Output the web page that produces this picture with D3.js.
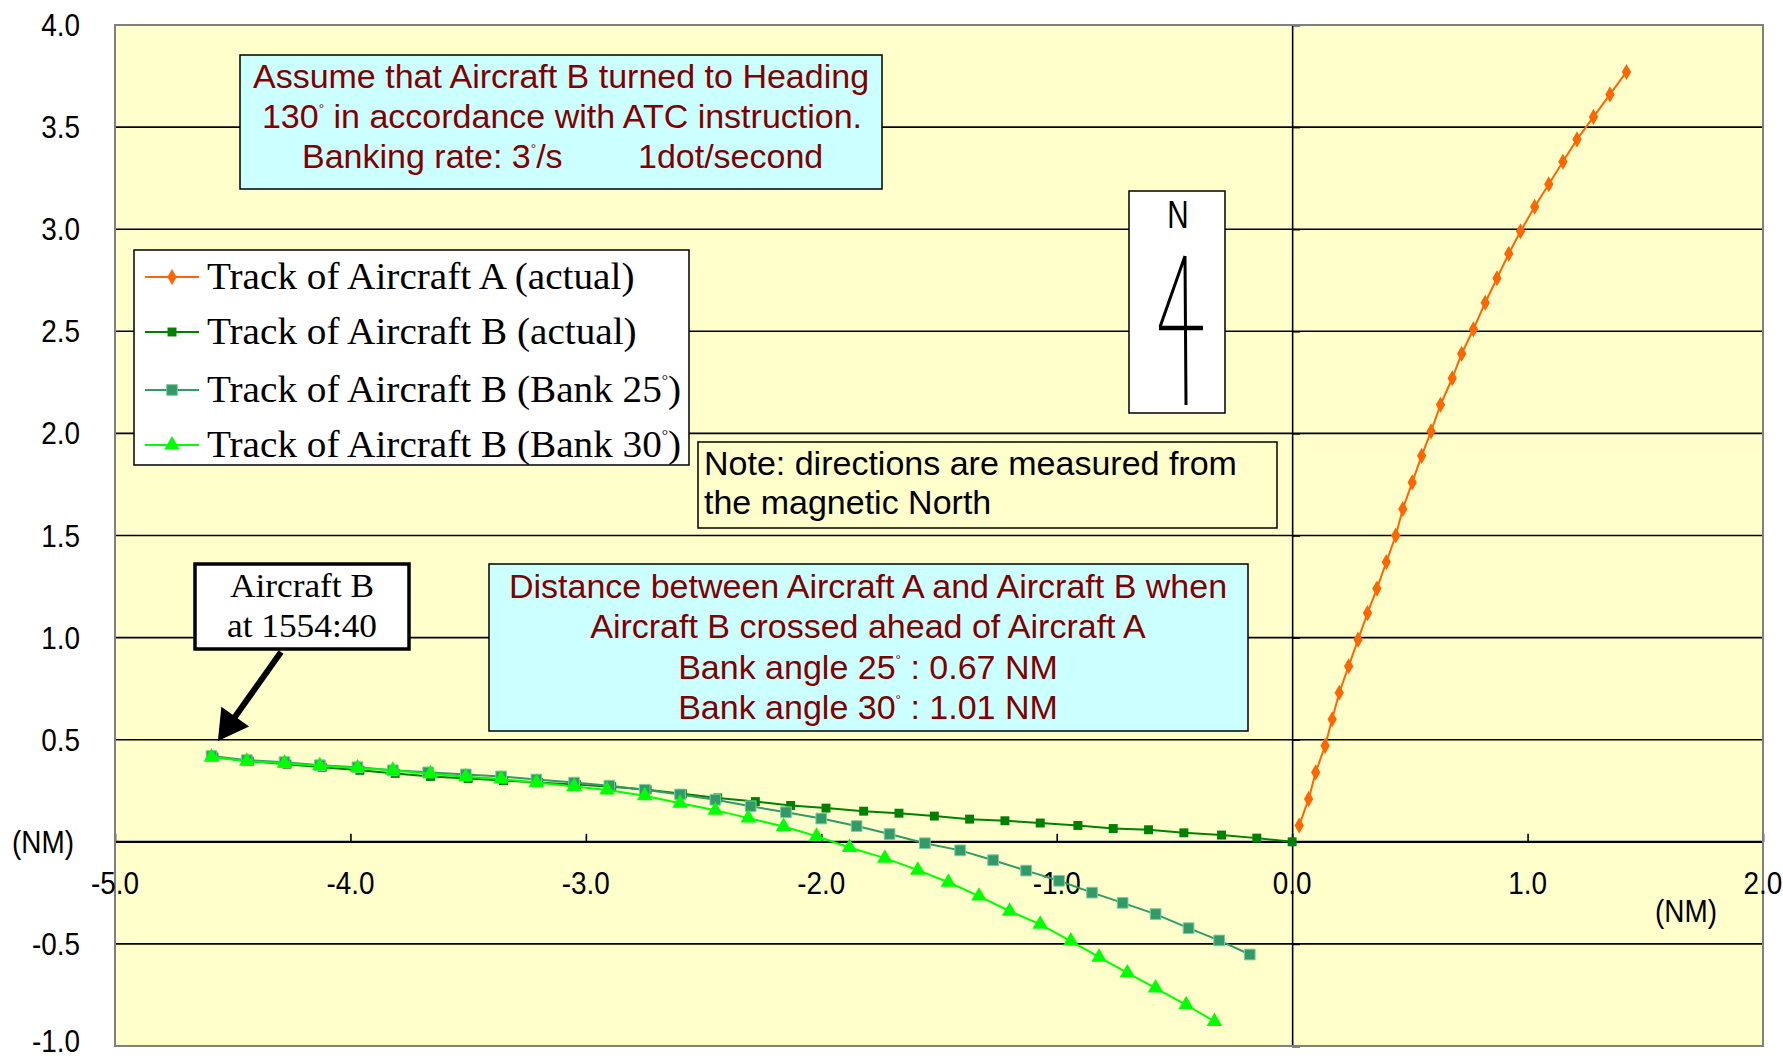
<!DOCTYPE html>
<html>
<head>
<meta charset="utf-8">
<script src="https://cdn.jsdelivr.net/npm/d3@7"></script>
<style>
  body { margin: 0; background: #fff; }
  svg text { font-family: "Liberation Sans", Arial, sans-serif; }
  .serif { font-family: "Liberation Serif", "Times New Roman", serif !important; }
</style>
</head>
<body>
<svg id="chart"></svg>
<script>
window.addEventListener("load", main);

const WIDTH = 1783;
const HEIGHT = 1061;

// plot area in pixels
const PLOT = {left: 115, right: 1763, top: 25, bottom: 1046};

// axis ticks
const xTicks = [-5, -4, -3, -2, -1, 0, 1, 2];
const yTicks = [-1, -0.5, 0, 0.5, 1, 1.5, 2, 2.5, 3, 3.5, 4];

// Track of Aircraft A (actual)
const aX = [0.03,0.07,0.10,0.14,0.17,0.20,0.24,0.28,0.32,0.36,0.40,0.44,0.47,0.51,0.55,0.59,
            0.63,0.68,0.72,0.77,0.82,0.87,0.92,0.97,1.03,1.09,1.15,1.21,1.28,1.35,1.42];
const aY = [0.08,0.21,0.34,0.47,0.60,0.73,0.86,0.99,1.12,1.24,1.37,1.50,1.63,1.76,1.89,2.01,
            2.14,2.27,2.39,2.51,2.64,2.76,2.88,2.99,3.11,3.22,3.33,3.44,3.55,3.66,3.77];

// Track of Aircraft B (actual)
const bX = [-4.58,-4.43,-4.27,-4.12,-3.96,-3.81,-3.66,-3.50,-3.35,-3.20,-3.04,-2.89,-2.74,-2.59,-2.44,-2.28,
            -2.13,-1.98,-1.82,-1.67,-1.52,-1.37,-1.22,-1.07,-0.91,-0.76,-0.61,-0.46,-0.30,-0.15,0.00];
const bY = [0.415,0.395,0.38,0.365,0.35,0.335,0.32,0.31,0.30,0.29,0.28,0.27,0.255,0.235,0.215,0.197,
            0.178,0.165,0.150,0.140,0.126,0.111,0.103,0.092,0.080,0.065,0.059,0.044,0.033,0.018,0.00];

// Track of Aircraft B (Bank 25)
const b25X = [-4.59,-4.44,-4.28,-4.13,-3.97,-3.82,-3.67,-3.51,-3.36,-3.21,-3.05,-2.90,-2.75,-2.60,-2.45,-2.30,
              -2.15,-2.00,-1.85,-1.71,-1.56,-1.41,-1.27,-1.13,-0.99,-0.85,-0.72,-0.58,-0.44,-0.31,-0.18];
const b25Y = [0.42,0.40,0.39,0.375,0.365,0.35,0.34,0.33,0.32,0.305,0.29,0.275,0.255,0.232,0.206,0.174,
              0.145,0.114,0.077,0.038,-0.007,-0.042,-0.090,-0.141,-0.191,-0.249,-0.299,-0.354,-0.423,-0.483,-0.552];

// Track of Aircraft B (Bank 30)
const b30X = [-4.59,-4.44,-4.28,-4.13,-3.97,-3.82,-3.66,-3.51,-3.36,-3.21,-3.05,-2.91,-2.75,-2.60,-2.45,-2.31,
              -2.16,-2.02,-1.88,-1.73,-1.59,-1.46,-1.33,-1.20,-1.07,-0.94,-0.82,-0.70,-0.58,-0.45,-0.33];
const b30Y = [0.415,0.395,0.385,0.372,0.362,0.35,0.333,0.318,0.307,0.29,0.271,0.254,0.225,0.189,0.155,0.116,
              0.075,0.027,-0.028,-0.080,-0.139,-0.198,-0.266,-0.34,-0.404,-0.486,-0.565,-0.642,-0.716,-0.798,-0.880];

const seriesNames = ["Track of Aircraft A (actual)", "Track of Aircraft B (actual)",
                     "Track of Aircraft B (Bank 25", "Track of Aircraft B (Bank 30"];

const DARKRED = "#800000";
const FS = 34; // box text size

function zip(xs, ys){ return xs.map((x,i)=>[x, ys[i]]); }

function drawBox(g, x, y, w, h, fill, sw){
    g.append("rect")
        .attr("x", x).attr("y", y)
        .attr("width", w).attr("height", h)
        .attr("fill", fill)
        .attr("stroke", "#000")
        .attr("stroke-width", sw || 1.5);
}

// text line with superscript degree signs, parts: [text, "°", text...]
function degText(g, x, y, parts, size, anchor, color, cls, sx){
    var t = g.append("text")
        .attr("transform", "translate(" + x + "," + y + ") scale(" + (sx || 1) + ",1)")
        .attr("font-size", size)
        .attr("text-anchor", anchor)
        .attr("fill", color);
    if (cls) t.attr("class", cls);
    var up = false;
    parts.forEach((p)=>{
        if (p === "°"){
            t.append("tspan").attr("font-size", size*0.4).attr("dy", -size*0.45).text("°");
            up = true;
        } else {
            var s = t.append("tspan").text(p);
            if (up){ s.attr("dy", size*0.45); up = false; }
        }
    });
    return t;
}

function main(){
    var svg = d3.select("#chart")
        .attr("width", WIDTH)
        .attr("height", HEIGHT);

    svg.append("rect").attr("width", WIDTH).attr("height", HEIGHT).attr("fill", "#fff");

    var x = d3.scaleLinear().domain([-5, 2]).range([PLOT.left, PLOT.right]);
    var y = d3.scaleLinear().domain([-1, 4]).range([PLOT.bottom, PLOT.top]);

    // plot background
    svg.append("rect")
        .attr("x", PLOT.left).attr("y", PLOT.top)
        .attr("width", PLOT.right-PLOT.left).attr("height", PLOT.bottom-PLOT.top)
        .attr("fill", "#FFFFCC");

    // horizontal gridlines
    svg.append("g").selectAll("line")
        .data(yTicks.filter(d=>d>-1 && d<4))
        .enter().append("line")
        .attr("x1", PLOT.left).attr("x2", PLOT.right)
        .attr("y1", d=>y(d)).attr("y2", d=>y(d))
        .attr("stroke", "#000")
        .attr("stroke-width", d=>d===0 ? 2.2 : 1.6);

    // vertical axis at x = 0, ticks to the right
    svg.append("g")
        .attr("transform", "translate(" + x(0) + ",0)")
        .call(d3.axisRight(y).tickValues(yTicks).tickSize(8).tickFormat(""))
        .call(g=>g.select(".domain").attr("stroke-width", 1.6))
        .call(g=>g.selectAll(".tick line").attr("stroke-width", 1.6));

    // horizontal axis at y = 0, ticks upward
    svg.append("g")
        .attr("transform", "translate(0," + y(0) + ")")
        .call(d3.axisTop(x).tickValues(xTicks).tickSize(8).tickFormat("").tickSizeOuter(0))
        .call(g=>g.select(".domain").remove())
        .call(g=>g.selectAll(".tick line").attr("stroke-width", 1.6));

    // plot border
    svg.append("rect")
        .attr("x", PLOT.left).attr("y", PLOT.top)
        .attr("width", PLOT.right-PLOT.left).attr("height", PLOT.bottom-PLOT.top)
        .attr("fill", "none")
        .attr("stroke", "#808080")
        .attr("stroke-width", 2);

    // y tick labels at the left (0 is replaced by the unit)
    svg.append("g").selectAll("text")
        .data(yTicks.filter(d=>d!==0))
        .enter().append("text")
        .attr("transform", d=>"translate(80," + Math.min(y(d)+11, 1052) + ") scale(0.9,1)")
        .attr("text-anchor", "end")
        .attr("font-size", 31)
        .text(d=>d.toFixed(1));

    // x tick labels
    svg.append("g").selectAll("text")
        .data(xTicks)
        .enter().append("text")
        .attr("transform", d=>"translate(" + x(d) + "," + (y(-0.2)+11) + ") scale(0.9,1)")
        .attr("text-anchor", "middle")
        .attr("font-size", 31)
        .text(d=>d.toFixed(1));

    svg.append("text")
        .attr("transform", "translate(43," + (y(0)+11) + ") scale(0.9,1)")
        .attr("text-anchor", "middle").attr("font-size", 31).text("(NM)");
    svg.append("text")
        .attr("transform", "translate(1686," + (y(-0.34)+11) + ") scale(0.9,1)")
        .attr("text-anchor", "middle").attr("font-size", 31).text("(NM)");

    // series
    var series = [
        {data: zip(aX, aY), color: "#FF6600", sym: d3.symbolDiamond, size: 75, fill: "#FF6600", stroke: "none"},
        {data: zip(bX, bY), color: "#008000", sym: d3.symbolSquare, size: 80, fill: "#008000", stroke: "none"},
        {data: zip(b25X, b25Y), color: "#339966", sym: d3.symbolSquare, size: 115, fill: "#339966", stroke: "#7FCCA5"},
        {data: zip(b30X, b30Y), color: "#00FF00", sym: d3.symbolTriangle, size: 105, fill: "#00FF00", stroke: "none"}
    ];

    var line = d3.line().x(d=>x(d[0])).y(d=>y(d[1]));

    series.forEach((s)=>{
        var g = svg.append("g");
        g.append("path")
            .attr("d", line(s.data))
            .attr("fill", "none")
            .attr("stroke", s.color)
            .attr("stroke-width", 2);
        g.selectAll("path.m")
            .data(s.data)
            .enter().append("path")
            .attr("class", "m")
            .attr("transform", d=>"translate(" + x(d[0]) + "," + y(d[1]) + ")")
            .attr("d", d3.symbol().type(s.sym).size(s.size))
            .attr("fill", s.fill)
            .attr("stroke", s.stroke)
            .attr("stroke-width", 1);
    });

    var notes = svg.append("g");

    // top box
    drawBox(notes, 240, 55, 642, 134, "#CCFFFF", 1.5);
    degText(notes, 561, 88, ["Assume that Aircraft B turned to Heading"], FS, "middle", DARKRED);
    degText(notes, 562, 128, ["130", "°", " in accordance with ATC instruction."], FS, "middle", DARKRED);
    degText(notes, 302, 168, ["Banking rate: 3", "°", "/s"], FS, "start", DARKRED);
    degText(notes, 638, 168, ["1dot/second"], FS, "start", DARKRED);

    // legend
    drawBox(notes, 134, 250, 555, 215, "#fff", 1.5);
    var legRows = [277, 332, 390, 445];
    series.forEach((s,i)=>{
        var ly = legRows[i];
        notes.append("line")
            .attr("x1", 145).attr("x2", 199)
            .attr("y1", ly).attr("y2", ly)
            .attr("stroke", s.color).attr("stroke-width", 2);
        notes.append("path")
            .attr("transform", "translate(172," + ly + ")")
            .attr("d", d3.symbol().type(s.sym).size(s.size))
            .attr("fill", s.fill).attr("stroke", s.stroke);
        var parts = i < 2 ? [seriesNames[i]] : [seriesNames[i], "°", ")"];
        degText(notes, 207, ly + 12, parts, 37, "start", "#000", "serif", 1.06);
    });

    // north box
    drawBox(notes, 1129, 191, 96, 222, "#fff", 1.5);
    notes.append("text")
        .attr("transform", "translate(1178,228) scale(0.78,1)")
        .attr("text-anchor", "middle").attr("font-size", 38).text("N");
    notes.append("path")
        .attr("d", "M1185,256 L1186,405 M1185,256 L1160,327")
        .attr("stroke", "#000").attr("stroke-width", 3).attr("fill", "none");
    notes.append("path")
        .attr("d", "M1159,328 L1203,328")
        .attr("stroke", "#000").attr("stroke-width", 4.5);

    // note box
    drawBox(notes, 698, 442, 579, 86, "#FFFFCC", 1.5);
    degText(notes, 704, 475, ["Note: directions are measured from"], FS, "start", "#000");
    degText(notes, 704, 514, ["the magnetic North"], FS, "start", "#000");

    // aircraft B label box
    drawBox(notes, 195, 564, 214, 85, "#fff", 3.5);
    degText(notes, 302, 597, ["Aircraft B"], 33, "middle", "#000", "serif", 1.07);
    degText(notes, 302, 637, ["at 1554:40"], 33, "middle", "#000", "serif", 1.07);

    // arrow pointing at the first point of B
    var tip = [x(bX[0]) + 4, y(bY[0]) - 16];
    var tail = [281, 652];
    var dx = tip[0]-tail[0], dy = tip[1]-tail[1];
    var len = Math.sqrt(dx*dx + dy*dy), ux = dx/len, uy = dy/len;
    var hb = [tip[0]-ux*30, tip[1]-uy*30];
    notes.append("line")
        .attr("x1", tail[0]).attr("y1", tail[1])
        .attr("x2", hb[0]+ux*4).attr("y2", hb[1]+uy*4)
        .attr("stroke", "#000").attr("stroke-width", 6);
    notes.append("path")
        .attr("d", "M" + tip + " L" + [hb[0]-uy*17, hb[1]+ux*17] + " L" + [hb[0]+uy*17, hb[1]-ux*17] + "Z")
        .attr("fill", "#000");

    // distance box
    drawBox(notes, 489, 564, 759, 167, "#CCFFFF", 1.5);
    degText(notes, 868, 598, ["Distance between Aircraft A and Aircraft B when"], FS, "middle", DARKRED);
    degText(notes, 868, 638, ["Aircraft B crossed ahead of Aircraft A"], FS, "middle", DARKRED);
    degText(notes, 868, 679, ["Bank angle 25", "°", " : 0.67 NM"], FS, "middle", DARKRED);
    degText(notes, 868, 719, ["Bank angle 30", "°", " : 1.01 NM"], FS, "middle", DARKRED);
}
</script>
</body>
</html>
